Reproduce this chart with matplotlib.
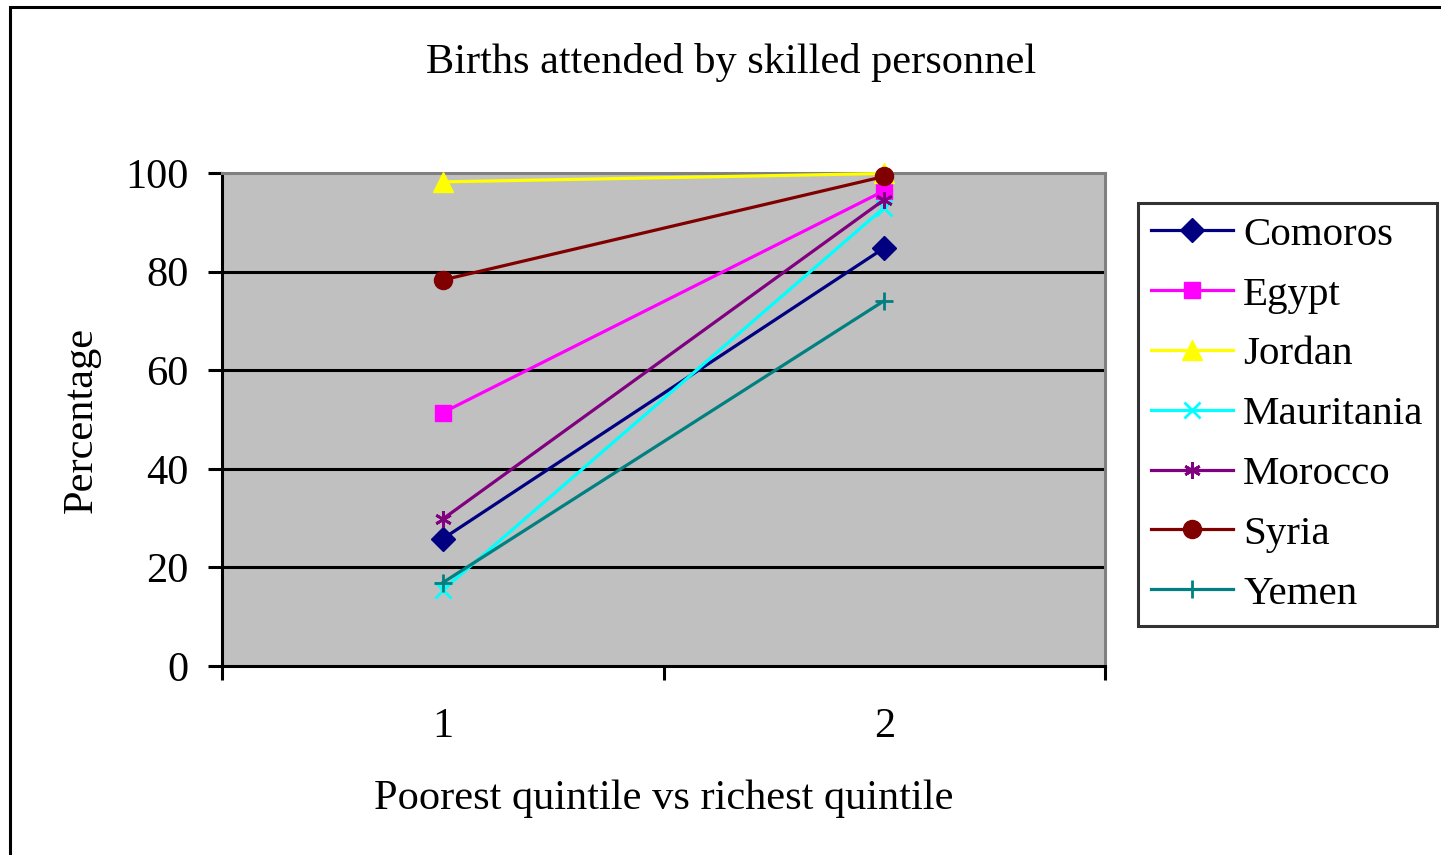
import numpy as np
import matplotlib.pyplot as plt
from matplotlib.patches import Rectangle

plt.rcParams['font.family'] = ['Liberation Serif', 'DejaVu Serif']

quintiles = [1, 2]
countries = ['Comoros', 'Egypt', 'Jordan', 'Mauritania', 'Morocco', 'Syria', 'Yemen']
comoros = [25.8, 84.8]
egypt = [51.4, 96.4]
jordan = [98.2, 99.9]
mauritania = [15.4, 93.0]
morocco = [29.8, 94.6]
syria = [78.3, 99.3]
yemen = [16.9, 74.1]

series = [comoros, egypt, jordan, mauritania, morocco, syria, yemen]
colors = ['#000080', '#FF00FF', '#FFFF00', '#00FFFF', '#800080', '#800000', '#008080']
markers = ['D', 's', '^', 'x', (6, 2, 0), 'o', '+']
msizes = [12, 11, 15, 11, 12, 13, 13]

fs = 30.5

fig = plt.figure(figsize=(14.41, 8.55), dpi=100)
ax = fig.add_axes([222/1441, 1-666/855, (1105-222)/1441, (666-173)/855])
ax.set_facecolor('#C0C0C0')

for name, vals, c, m, ms in zip(countries, series, colors, markers, msizes):
    ax.plot(quintiles, vals, color=c, marker=m, markersize=ms, lw=2.3,
            markeredgewidth=2 if m in ('x', '+', (6, 2, 0)) else 1,
            markeredgecolor=c, label=name, clip_on=False, zorder=3)

ax.set_xlim(0.5, 2.5)
ax.set_ylim(0, 100)
ax.set_yticks([0, 20, 40, 60, 80, 100])
for yv in [20, 40, 60, 80]:
    ax.axhline(yv, color='black', lw=2.2, zorder=1)

ax.set_xticks([0.5, 1.5, 2.5])
ax.set_xticklabels([])
ax.set_xticks(quintiles, minor=True)
ax.set_xticklabels([str(q) for q in quintiles], minor=True)
ax.tick_params(axis='x', which='major', direction='out', length=10, width=2.2)
ax.tick_params(axis='x', which='minor', length=0, pad=30, labelsize=fs)
ax.tick_params(axis='y', direction='out', length=10, width=2.2, pad=14, labelsize=fs)

for s in ['left', 'bottom']:
    ax.spines[s].set_linewidth(2.2)
    ax.spines[s].set_color('black')
for s in ['top', 'right']:
    ax.spines[s].set_linewidth(2.2)
    ax.spines[s].set_color('#808080')

ax.set_ylabel('Percentage', fontsize=fs, labelpad=18)
ax.set_xlabel('Poorest quintile vs richest quintile', fontsize=fs, labelpad=24)
fig.text(731/1441, 1-62/855, 'Births attended by skilled personnel',
         fontsize=fs, ha='center', va='center')

leg = fig.legend(loc='upper left', bbox_to_anchor=(1138/1441, 1-203/855),
                 fontsize=29.5, frameon=True, fancybox=False, edgecolor='black',
                 handlelength=2.0, handletextpad=0.25, labelspacing=0.54,
                 borderpad=0.32, borderaxespad=0)
leg.get_frame().set_linewidth(2.2)

fig.patches.append(Rectangle((10/1441, -0.1), 1.2, 1-7/855+0.1,
                             transform=fig.transFigure, fill=False,
                             edgecolor='black', lw=2.2))

fig.savefig('out.png', dpi=100)
